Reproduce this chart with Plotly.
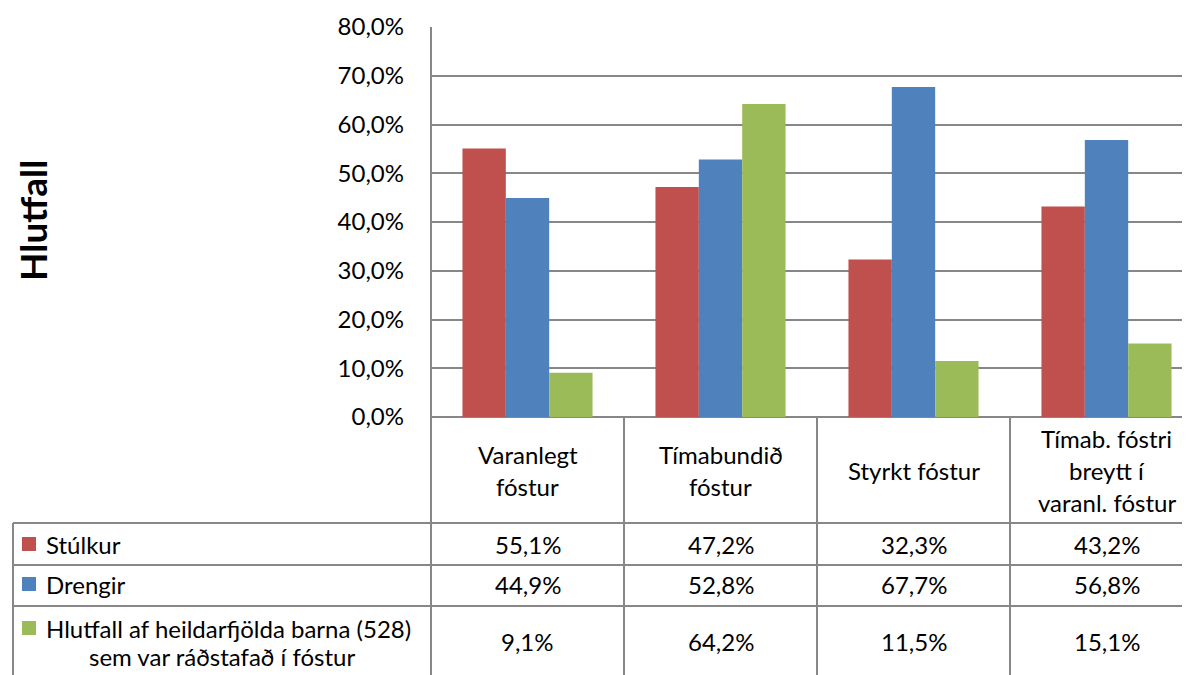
import plotly.graph_objects as go

categories = ["Varanlegt<br>fóstur", "Tímabundið<br>fóstur", "Styrkt fóstur", "Tímab. fóstri<br>breytt í<br>varanl. fóstur"]
series_names = ["Stúlkur", "Drengir", "Hlutfall af heildarfjölda barna (528)<br>sem var ráðstafað í fóstur"]
stulkur = [0.551, 0.472, 0.323, 0.432]
drengir = [0.449, 0.528, 0.677, 0.568]
hlutfall = [0.091, 0.642, 0.115, 0.151]
colors = ["#C0504D", "#4F81BD", "#9BBB59"]
y_ticks = [0, 0.1, 0.2, 0.3, 0.4, 0.5, 0.6, 0.7, 0.8]

W, H = 1190, 675
OFF = 8  # page body margin offset
FONT = "Lato"
FS = 24
GRID = "#878787"
X0, Y0, Y1 = 431, 417, 27  # plot left, plot bottom, plot top in screen px
CAT_W = 193

def px(x):
    return (x - OFF) / W

def py(y):
    return 1 - (y - OFF) / H

fig = go.Figure()
series = [stulkur, drengir, hlutfall]
xs = list(range(len(categories)))
for name, vals, c in zip(series_names, series, colors):
    fig.add_trace(go.Bar(x=xs, y=vals, name=name, marker=dict(color=c, line=dict(width=0)), showlegend=False))

shapes = []
annotations = []

def hline(y, x0, x1):
    shapes.append(dict(type="line", xref="paper", yref="paper", x0=px(x0), x1=px(x1), y0=py(y), y1=py(y),
                       line=dict(color=GRID, width=2)))

def vline(x, y0, y1):
    shapes.append(dict(type="line", xref="paper", yref="paper", x0=px(x), x1=px(x), y0=py(y0), y1=py(y1),
                       line=dict(color=GRID, width=2)))

row_lines = [523, 565, 606]
for r in row_lines:
    hline(r, 13, W + OFF)
vline(13, 523, H + OFF)
vline(X0, Y1, H + OFF)
for i in range(1, len(categories)):
    vline(X0 + i * CAT_W, Y0, H + OFF)

def txt(s, x, y, anchor="center", size=FS, angle=0):
    annotations.append(dict(text=s, x=px(x), y=py(y), xref="paper", yref="paper", showarrow=False,
                            xanchor=anchor, yanchor="middle", textangle=angle,
                            font=dict(family=FONT, size=size, color="#000")))

# category header text
LH = 32
for i, cat in enumerate(categories):
    lines = cat.split("<br>")
    cx = X0 + (i + 0.5) * CAT_W
    start = 470 - (len(lines) - 1) * LH / 2
    for j, ln in enumerate(lines):
        txt(ln, cx, start + j * LH)

# rows of table
row_centers = [544, 584, 641]
for k, (name, vals, c) in enumerate(zip(series_names, series, colors)):
    yc = row_centers[k]
    lines = name.split("<br>")
    if len(lines) == 1:
        sq_y = yc
        txt(lines[0], 44, yc, anchor="left")
    else:
        sq_y = 628
        txt(lines[0], 44, 628, anchor="left")
        txt(lines[1], 222, 656)
    shapes.append(dict(type="rect", xref="paper", yref="paper", x0=px(22), x1=px(36), y0=py(sq_y - 7), y1=py(sq_y + 7),
                       fillcolor=c, line=dict(width=0)))
    for i, v in enumerate(vals):
        cx = X0 + (i + 0.5) * CAT_W
        txt(f"{v*100:.1f}%".replace(".", ","), cx, yc)

txt("<b>Hlutfall</b>", 32, 221, size=37, angle=-90)

x_right = -0.5 + (W + OFF - X0) / CAT_W
fig.update_layout(
    width=W, height=H,
    margin=dict(l=0, r=0, t=0, b=0, autoexpand=False),
    paper_bgcolor="white", plot_bgcolor="white",
    separators=", ",
    barmode="group", bargap=0.326, bargroupgap=0,
    xaxis=dict(domain=[px(X0), 1], range=[-0.5, x_right], showticklabels=False, showgrid=False,
               zeroline=False, showline=False, ticks="", automargin=False),
    yaxis=dict(domain=[py(Y0), py(Y1)], range=[0, 0.8], tickvals=y_ticks, tickformat=".1%",
               showgrid=True, gridcolor=GRID, gridwidth=2, zeroline=True, zerolinecolor=GRID, zerolinewidth=2,
               showline=False, ticks="", ticklabelstandoff=26, automargin=False,
               tickfont=dict(family=FONT, size=FS, color="#000")),
    shapes=shapes, annotations=annotations,
)

fig.write_html("out.html")
